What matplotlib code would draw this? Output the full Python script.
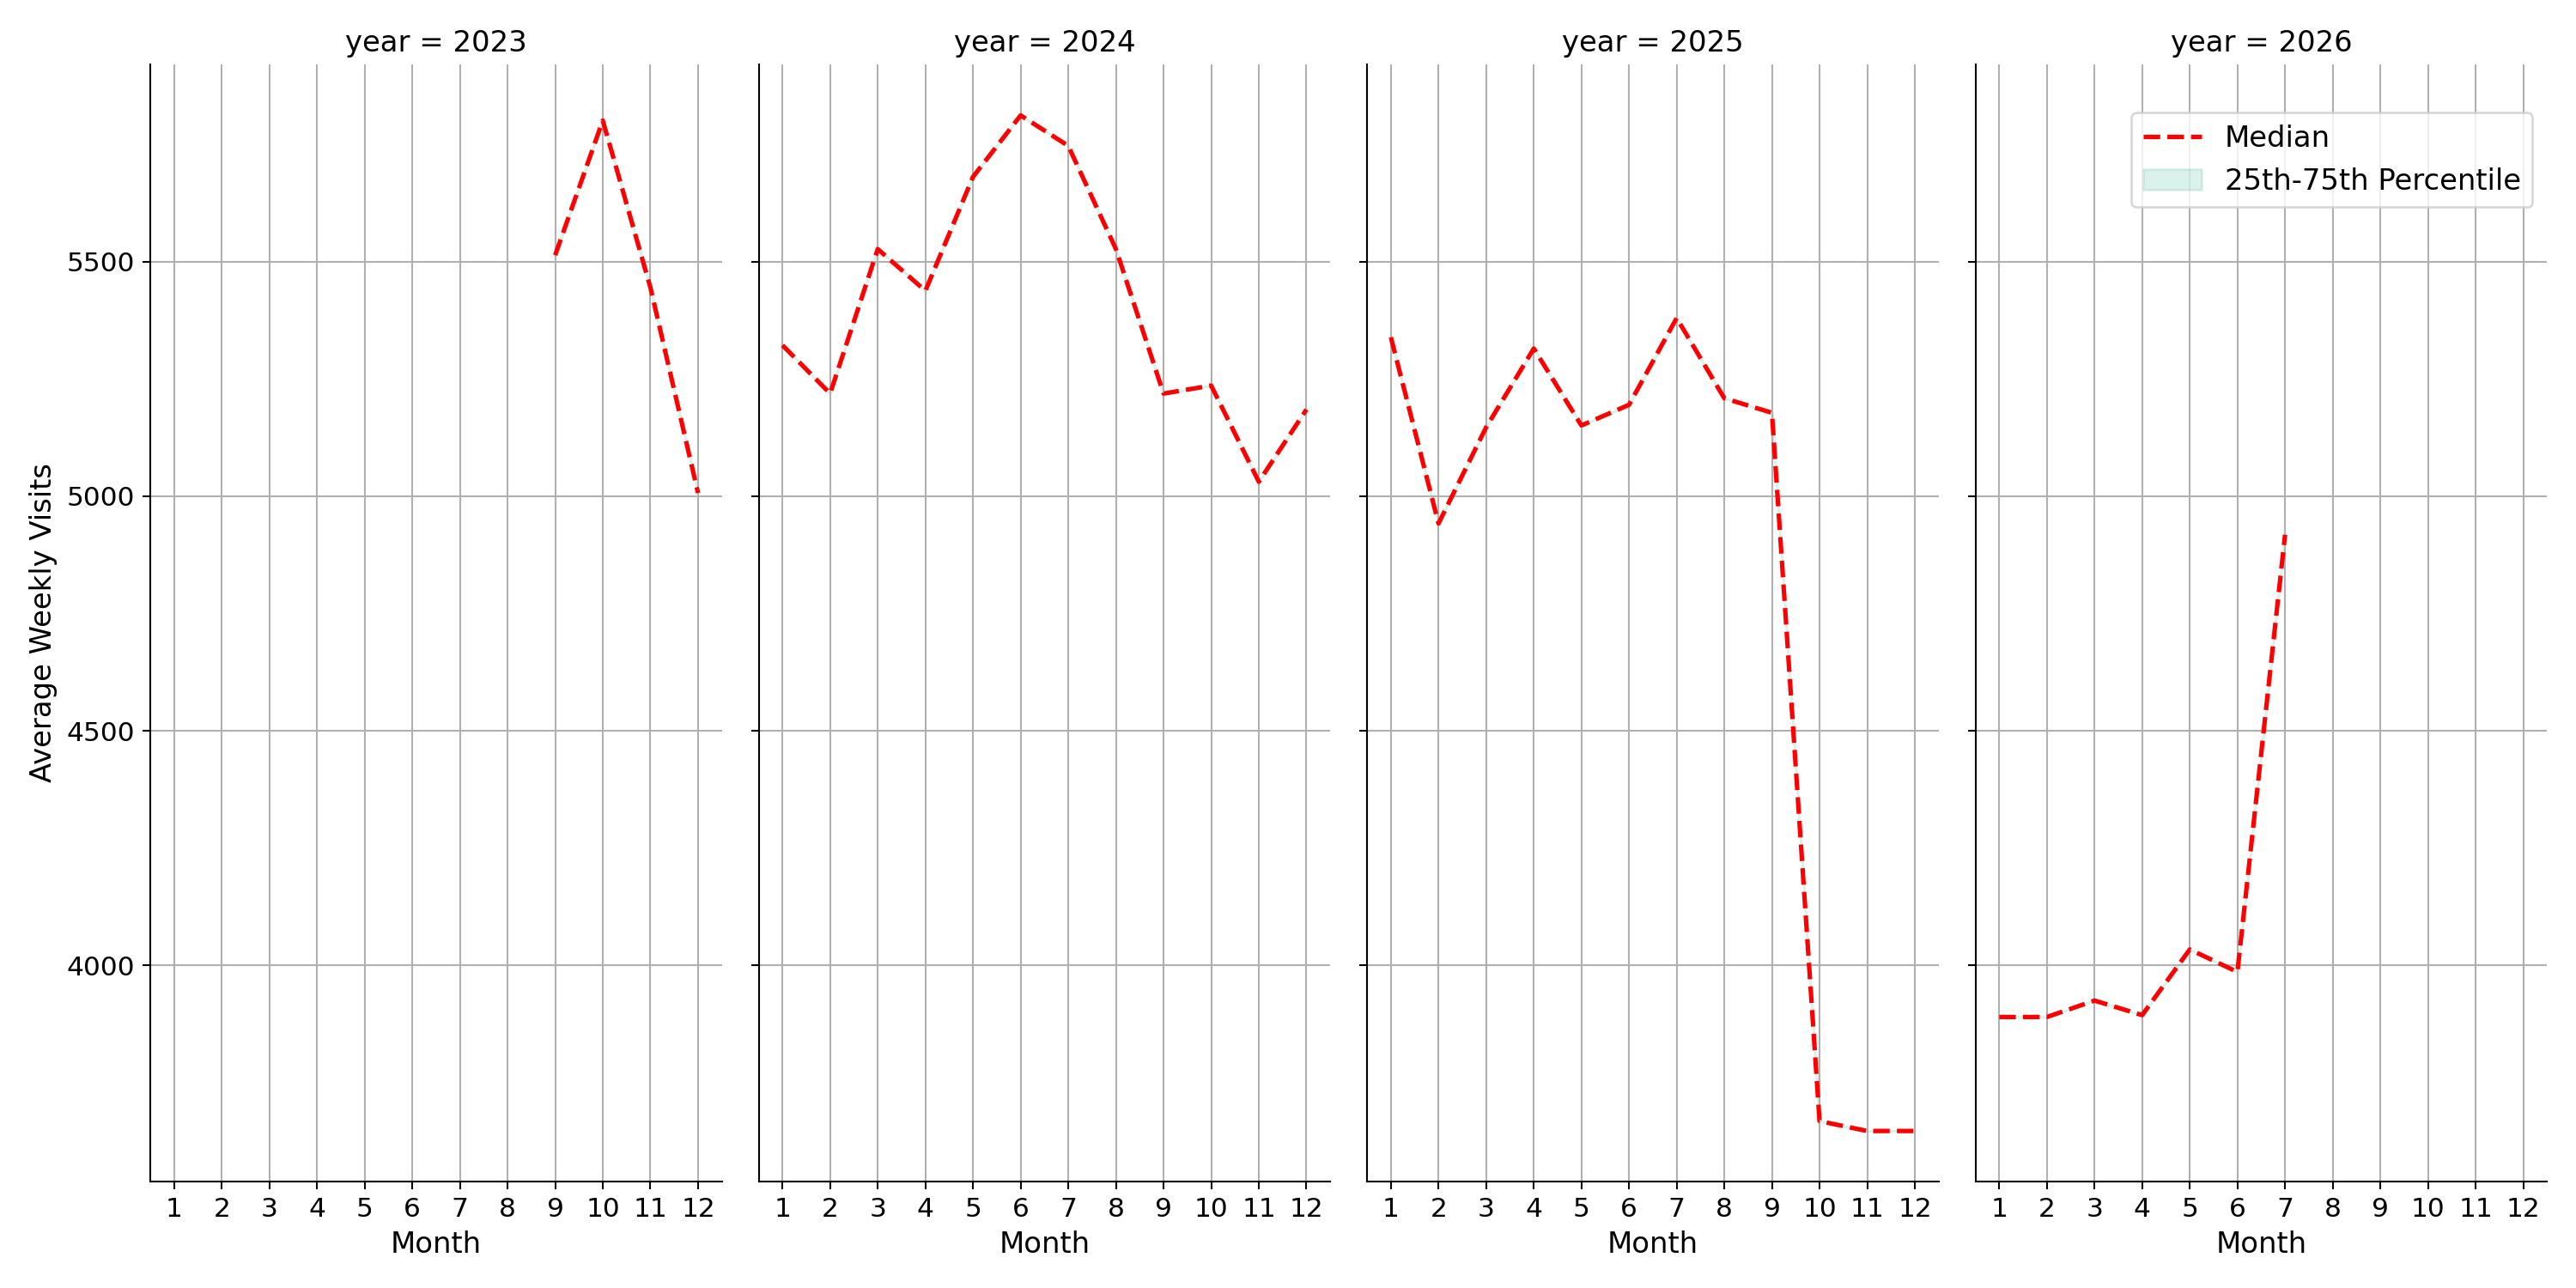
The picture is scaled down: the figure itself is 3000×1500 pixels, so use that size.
import matplotlib
matplotlib.use('Agg')
from matplotlib import pyplot as plt
import numpy as np

YEARS = [2023, 2024, 2025, 2026]
MONTHS = {
    2023: [9, 10, 11, 12],
    2024: list(range(1, 13)),
    2025: list(range(1, 13)),
    2026: [1, 2, 3, 4, 5, 6, 7],
}
MEDIAN = {
    2023: [5514, 5801, 5445, 5007],
    2024: [5322, 5219, 5527, 5438, 5681, 5812, 5747, 5527, 5219, 5236, 5031, 5185],
    2025: [5339, 4942, 5147, 5315, 5151, 5195, 5380, 5209, 5178, 3668, 3647, 3647],
    2026: [3890, 3890, 3925, 3894, 4034, 3986, 4918],
}

plt.rcParams['font.size'] = 12
fig, axes = plt.subplots(1, 4, figsize=(16, 8), dpi=187.5, sharey=True)

for ax, yr in zip(axes, YEARS):
    x = MONTHS[yr]
    y = MEDIAN[yr]
    ax.fill_between(x, y, y, color='#4fb99f', alpha=0.2, label='25th-75th Percentile')
    ax.plot(x, y, '--', color='red', linewidth=2, label='Median')
    ax.set_title('year = %d' % yr, fontsize=13)
    ax.set_xticks(np.arange(1, 13))
    ax.set_xlim(0.5, 12.5)
    ax.set_xlabel('Month', fontsize=13)
    ax.grid(True, color='#b0b0b0', linewidth=0.8)
    ax.spines['top'].set_visible(False)
    ax.spines['right'].set_visible(False)

axes[0].set_ylim(3540, 5920)
axes[0].set_yticks([4000, 4500, 5000, 5500])
axes[0].set_ylabel('Average Weekly Visits', fontsize=13)

h, l = axes[3].get_legend_handles_labels()
axes[3].legend(h[::-1], l[::-1], loc='upper right', fontsize=13,
               bbox_to_anchor=(1.0, 0.97))

plt.tight_layout()
plt.savefig('out.png')
